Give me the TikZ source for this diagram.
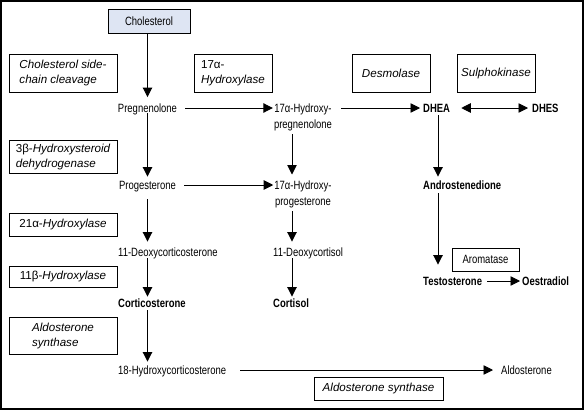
\documentclass[tikz,border=0pt]{standalone}
\usepackage{fontspec}
\setmainfont{Liberation Sans}
\newfontfamily\cond{Liberation Sans}[FakeStretch=0.79]
\usetikzlibrary{arrows.meta}
\definecolor{cholfill}{RGB}{222,229,243}
\begin{document}
\begin{tikzpicture}[x=1pt,y=-1pt,
  t/.style={inner sep=0pt, text height=8.5pt, text depth=0pt, font=\fontsize{12}{14}\cond},
  tb/.style={t, font=\fontsize{12}{14}\cond\bfseries},
  t2/.style={inner sep=0pt, align=center, font=\fontsize{12}{16}\cond},
  enz/.style={draw, line width=0.9pt, inner sep=0pt, align=left, font=\fontsize{11.6}{15}\selectfont\itshape},
  arr/.style={-{Triangle[length=9.5pt,width=9.5pt]}, line width=0.9pt},
  darr/.style={{Triangle[length=9.5pt,width=9.5pt]}-{Triangle[length=9.5pt,width=9.5pt]}, line width=0.9pt},
]
\useasboundingbox (0,0) rectangle (584,410);
\draw[line width=1.2pt] (1,1) rectangle (583,409);

% substrates
\node[draw, fill=cholfill, line width=0.9pt, minimum width=82, minimum height=24, inner sep=0pt, font=\fontsize{12}{14}\cond] (chol) at (149,21) {Cholesterol};
\node[t] (preg) at (147.5,108) {Pregnenolone};
\node[t2, anchor=north] (hp) at (303,103.5) {17α-Hydroxy-\\pregnenolone};
\node[tb, anchor=west] (dhea) at (423,108) {DHEA};
\node[tb, anchor=west] (dhes) at (532,108) {DHES};
\node[t] (prog) at (147.5,185) {Progesterone};
\node[t2, anchor=north] (hprog) at (303,180.5) {17α-Hydroxy-\\progesterone};
\node[tb, anchor=west] (andro) at (423,185) {Androstenedione};
\node[t, anchor=west] (doc) at (118,252) {11-Deoxycorticosterone};
\node[t, anchor=west] (doc2) at (273,252) {11-Deoxycortisol};
\node[tb, anchor=west] (testo) at (423,281) {Testosterone};
\node[tb, anchor=west] (oest) at (522,281) {Oestradiol};
\node[tb, anchor=west] (cortico) at (118,303) {Corticosterone};
\node[tb, anchor=west] (cortisol) at (273,303) {Cortisol};
\node[t, anchor=west] (hyd) at (118,370) {18-Hydroxycorticosterone};
\node[t, anchor=west] (aldo) at (501,370) {Aldosterone};

% enzymes
\node[enz, minimum width=108, minimum height=38] (e1) at (63,73) {Cholesterol side-\\chain cleavage};
\node[enz, minimum width=78, minimum height=38] (e2) at (233,73) {{\upshape 17α-}\\Hydroxylase};
\node[enz, minimum width=78, minimum height=38] (e3) at (391,73) {Desmolase};
\node[enz, minimum width=78, minimum height=38] (e4) at (496,73) {Sulphokinase};
\node[enz, minimum width=108, minimum height=33] (e5) at (63,156.5) {{\upshape 3β-}Hydroxysteroid\\dehydrogenase};
\node[enz, minimum width=108, minimum height=23] (e6) at (63,224.5) {{\upshape 21α-}Hydroxylase};
\node[enz, minimum width=108, minimum height=21] (e7) at (63,276.5) {{\upshape 11β-}Hydroxylase};
\node[enz, minimum width=108, minimum height=37] (e8) at (63,335.5) {Aldosterone\\synthase};
\node[enz, minimum width=129, minimum height=23] (e9) at (378.5,388.5) {Aldosterone synthase};
\node[enz, minimum width=67, minimum height=23, font=\fontsize{12}{14}\cond] (e10) at (485.5,259.5) {Aromatase};

% column 1
\draw[arr, shorten >=6.5pt] (chol.south -| preg.north) -- (preg.north);
\draw[arr, shorten <=1pt, shorten >=4pt] (preg.south) -- (prog.north);
\draw[arr, shorten <=10pt, shorten >=6pt] (prog.south) -- (prog.south |- doc.north);
\draw[arr, shorten <=2pt, shorten >=2pt] (prog.south |- doc.south) -- (prog.south |- cortico.north);
\draw[arr, shorten <=3pt, shorten >=4pt] (prog.south |- cortico.south) -- (prog.south |- hyd.north);

% column 2
\draw[arr, shorten <=3pt, shorten >=6pt] ([xshift=-11pt]hp.south) -- ([xshift=-11pt]hp.south |- hprog.north);
\draw[arr, shorten <=3pt, shorten >=6pt] ([xshift=-11pt]hprog.south) -- ([xshift=-11pt]hprog.south |- doc2.north);
\draw[arr, shorten <=2pt, shorten >=2pt] ([xshift=-11pt]hprog.south |- doc2.south) -- ([xshift=-11pt]hprog.south |- cortisol.north);

% column 3
\draw[arr, shorten <=3pt, shorten >=4pt] ([xshift=15pt]dhea.south west) -- ([xshift=15pt]dhea.south west |- andro.north);
\draw[arr, shorten <=4pt, shorten >=12pt] ([xshift=15pt]dhea.south west |- andro.south) -- ([xshift=15pt]dhea.south west |- testo.north);

% horizontal
\draw[arr, shorten <=8pt, shorten >=1pt] (preg.east) -- (preg.east -| hp.west);
\draw[arr, shorten <=9pt, shorten >=3pt] (hp.east |- dhea.west) -- (dhea.west);
\draw[darr, shorten <=11pt, shorten >=4pt] (dhea.east) -- (dhes.west);
\draw[arr, shorten <=8pt, shorten >=1pt] (prog.east) -- (prog.east -| hprog.west);
\draw[arr, shorten <=5pt, shorten >=2pt] (testo.east) -- (oest.west);
\draw[arr, shorten <=14pt, shorten >=8pt] (hyd.east) -- (aldo.west);
\end{tikzpicture}
\end{document}
